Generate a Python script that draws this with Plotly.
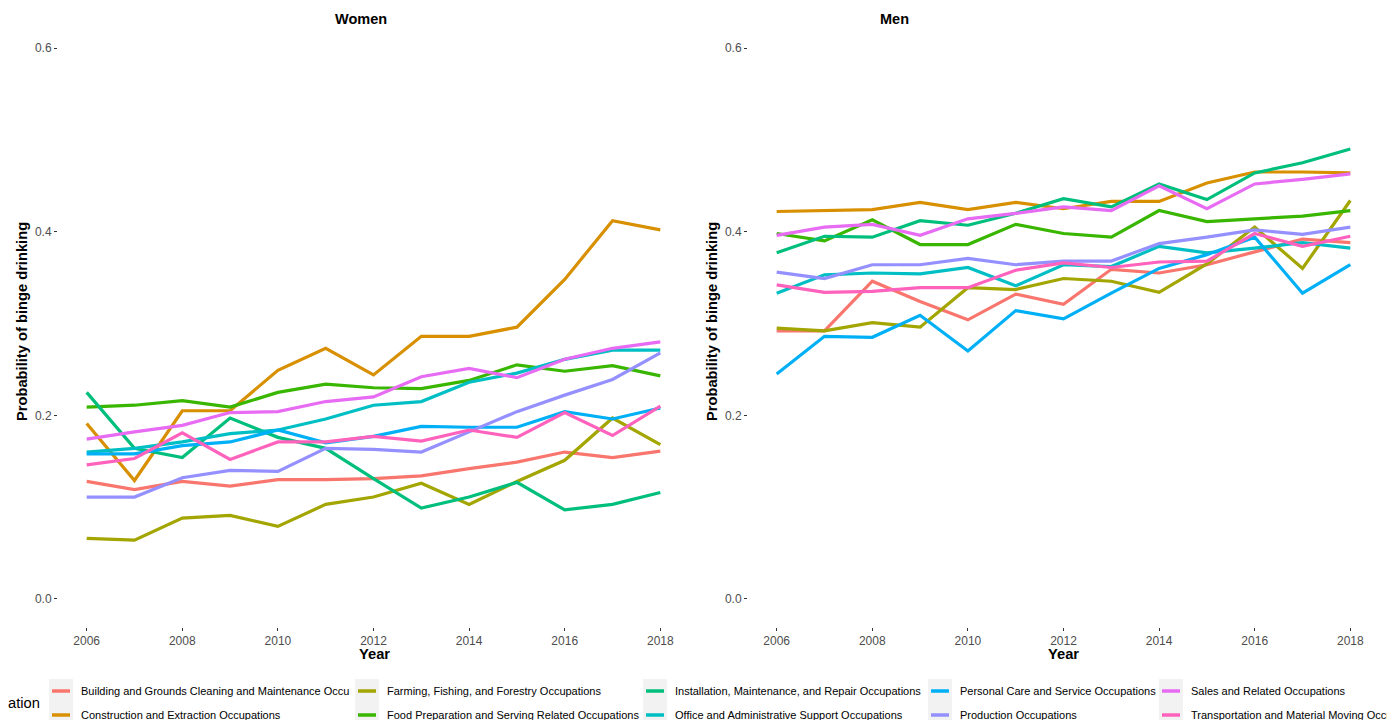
import plotly.graph_objects as go

W, H = 1387, 720

years = list(range(2006, 2019))

occupations = [
    "Building and Grounds Cleaning and Maintenance Occu",
    "Construction and Extraction Occupations",
    "Farming, Fishing, and Forestry Occupations",
    "Food Preparation and Serving Related Occupations",
    "Installation, Maintenance, and Repair Occupations",
    "Office and Administrative Support Occupations",
    "Personal Care and Service Occupations",
    "Production Occupations",
    "Sales and Related Occupations",
    "Transportation and Material Moving Occupations",
]

colors = ["#F8766D", "#D89000", "#A3A500", "#39B600", "#00BF7D",
          "#00BFC4", "#00B0F6", "#9590FF", "#E76BF3", "#FF62BC"]

legend_title = "ation"

# Women
building_w = [0.128, 0.119, 0.128, 0.123, 0.130, 0.130, 0.131, 0.134, 0.142, 0.149, 0.160, 0.154, 0.161]
construction_w = [0.191, 0.129, 0.205, 0.205, 0.249, 0.273, 0.244, 0.286, 0.286, 0.296, 0.348, 0.412, 0.402]
farming_w = [0.066, 0.064, 0.088, 0.091, 0.079, 0.103, 0.111, 0.126, 0.103, 0.128, 0.151, 0.197, 0.168]
food_w = [0.209, 0.211, 0.216, 0.209, 0.225, 0.234, 0.230, 0.229, 0.238, 0.255, 0.248, 0.254, 0.243]
install_w = [0.225, 0.164, 0.154, 0.197, 0.176, 0.164, 0.131, 0.099, 0.111, 0.127, 0.097, 0.103, 0.116]
office_w = [0.160, 0.164, 0.171, 0.180, 0.184, 0.196, 0.211, 0.215, 0.236, 0.246, 0.261, 0.271, 0.271]
personal_w = [0.158, 0.158, 0.167, 0.171, 0.184, 0.170, 0.177, 0.188, 0.187, 0.187, 0.204, 0.196, 0.208]
production_w = [0.111, 0.111, 0.132, 0.140, 0.139, 0.164, 0.163, 0.160, 0.182, 0.204, 0.222, 0.239, 0.268]
sales_w = [0.174, 0.182, 0.189, 0.203, 0.204, 0.215, 0.220, 0.242, 0.251, 0.241, 0.261, 0.273, 0.280]
transport_w = [0.146, 0.153, 0.181, 0.152, 0.171, 0.171, 0.177, 0.172, 0.184, 0.176, 0.203, 0.178, 0.210]

# Men
building_m = [0.292, 0.292, 0.346, 0.324, 0.304, 0.332, 0.321, 0.359, 0.355, 0.364, 0.378, 0.392, 0.388]
construction_m = [0.422, 0.423, 0.424, 0.432, 0.424, 0.432, 0.425, 0.433, 0.433, 0.453, 0.465, 0.465, 0.464]
farming_m = [0.295, 0.292, 0.301, 0.296, 0.339, 0.337, 0.349, 0.346, 0.334, 0.365, 0.405, 0.360, 0.434]
food_m = [0.398, 0.390, 0.413, 0.386, 0.386, 0.408, 0.398, 0.394, 0.423, 0.411, 0.414, 0.417, 0.423]
install_m = [0.377, 0.395, 0.394, 0.412, 0.407, 0.420, 0.436, 0.427, 0.452, 0.435, 0.464, 0.475, 0.490]
office_m = [0.333, 0.353, 0.355, 0.354, 0.361, 0.341, 0.364, 0.362, 0.384, 0.377, 0.382, 0.388, 0.382]
personal_m = [0.245, 0.286, 0.285, 0.309, 0.270, 0.314, 0.305, 0.333, 0.360, 0.375, 0.394, 0.333, 0.364]
production_m = [0.356, 0.349, 0.364, 0.364, 0.371, 0.364, 0.368, 0.368, 0.387, 0.394, 0.402, 0.397, 0.405]
sales_m = [0.396, 0.405, 0.408, 0.396, 0.414, 0.420, 0.427, 0.423, 0.450, 0.425, 0.452, 0.457, 0.463]
transport_m = [0.342, 0.334, 0.335, 0.339, 0.339, 0.358, 0.366, 0.361, 0.367, 0.368, 0.398, 0.384, 0.395]

women = [building_w, construction_w, farming_w, food_w, install_w,
         office_w, personal_w, production_w, sales_w, transport_w]
men = [building_m, construction_m, farming_m, food_m, install_m,
       office_m, personal_m, production_m, sales_m, transport_m]

y_ticks = [0.0, 0.2, 0.4, 0.6]
x_ticks = [2006, 2008, 2010, 2012, 2014, 2016, 2018]


def fx(px):
    return px / W


def fy(py):
    return 1 - py / H


FONT = "Liberation Sans, Arial, Helvetica, sans-serif"
LINE_W = 3.2

fig = go.Figure()
for name, col, yw, ym in zip(occupations, colors, women, men):
    fig.add_trace(go.Scatter(x=years, y=yw, mode="lines", name=name,
                             line=dict(color=col, width=LINE_W),
                             xaxis="x", yaxis="y", showlegend=False))
    fig.add_trace(go.Scatter(x=years, y=ym, mode="lines", name=name,
                             line=dict(color=col, width=LINE_W),
                             xaxis="x2", yaxis="y2", showlegend=False))

ydom = [fy(626.5), fy(20.5)]
axis_common = dict(showgrid=False, zeroline=False, showline=False,
                   ticks="outside", ticklen=3, tickwidth=1.2, tickcolor="#333333",
                   tickfont=dict(family=FONT, size=12, color="#4D4D4D"),
                   automargin=False)

fig.update_layout(
    width=W, height=H,
    template="none",
    margin=dict(l=0, r=0, t=0, b=0),
    paper_bgcolor="white", plot_bgcolor="white",
    font=dict(family=FONT, color="black"),
    xaxis=dict(domain=[fx(58), fx(689)], range=[2005.4, 2018.6],
               tickvals=x_ticks, anchor="y", **axis_common),
    yaxis=dict(domain=ydom, range=[-0.03, 0.63], tickvals=y_ticks,
               tickformat=".1f", anchor="x", **axis_common),
    xaxis2=dict(domain=[fx(748), fx(1379)], range=[2005.4, 2018.6],
                tickvals=x_ticks, anchor="y2", **axis_common),
    yaxis2=dict(domain=ydom, range=[-0.03, 0.63], tickvals=y_ticks,
                tickformat=".1f", anchor="x2", **axis_common),
    showlegend=False,
)

ann = []
# panel titles
for txt, cx in [("Women", 361), ("Men", 894)]:
    ann.append(dict(text=f"<b>{txt}</b>", x=fx(cx), y=fy(19), xref="paper", yref="paper",
                    showarrow=False, xanchor="center", yanchor="middle",
                    font=dict(family=FONT, size=14.5, color="black")))
# axis titles
for cx in (374, 1063):
    ann.append(dict(text="<b>Year</b>", x=fx(cx), y=fy(654), xref="paper", yref="paper",
                    showarrow=False, xanchor="center", yanchor="middle",
                    font=dict(family=FONT, size=14.7, color="black")))
for cx in (22, 712):
    ann.append(dict(text="<b>Probability of binge drinking</b>", x=fx(cx), y=fy(322),
                    xref="paper", yref="paper", showarrow=False, textangle=-90,
                    xanchor="center", yanchor="middle",
                    font=dict(family=FONT, size=14.7, color="black")))

# legend: title, key boxes, key lines and labels (two rows, five columns)
ann.append(dict(text=legend_title, x=fx(6), y=fy(703), xref="paper", yref="paper",
                showarrow=False, xanchor="left", yanchor="middle",
                font=dict(family=FONT, size=14.7, color="black")))

col_left = [49, 355, 643, 928, 1159]
row_y = [691, 715]
shapes = []
for c, bx in enumerate(col_left):
    shapes.append(dict(type="rect", xref="paper", yref="paper",
                       x0=fx(bx), x1=fx(bx + 24), y0=fy(679), y1=fy(740),
                       fillcolor="#F2F2F2", line=dict(width=0), layer="below"))
    for r, ry in enumerate(row_y):
        i = c * 2 + r
        shapes.append(dict(type="line", xref="paper", yref="paper",
                           x0=fx(bx + 3), x1=fx(bx + 21), y0=fy(ry), y1=fy(ry),
                           line=dict(color=colors[i], width=3.5)))
        ann.append(dict(text=occupations[i], x=fx(bx + 30), y=fy(ry),
                        xref="paper", yref="paper", showarrow=False,
                        xanchor="left", yanchor="middle",
                        font=dict(family=FONT, size=11, color="black")))

fig.update_layout(annotations=ann, shapes=shapes)

fig.write_html("out.html")
